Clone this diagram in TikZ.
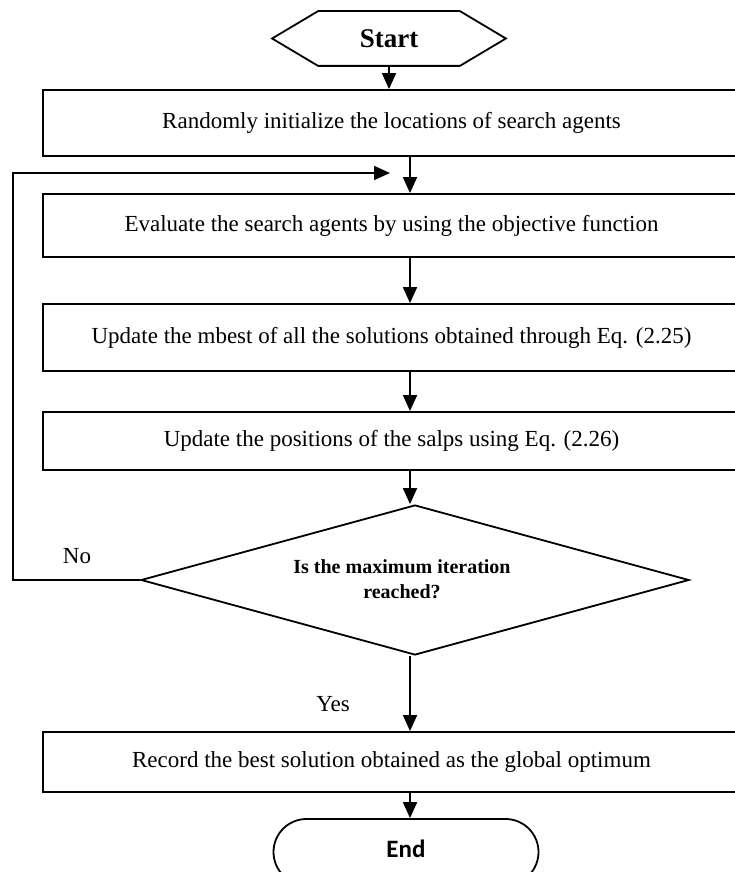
\documentclass[tikz,border=0pt]{standalone}
\usepackage{fontspec}
\setmainfont{Liberation Serif}
\newfontfamily\endfont{Carlito}
\usetikzlibrary{arrows.meta,shapes.geometric,shapes.misc}
\begin{document}
\begin{tikzpicture}[x=1pt,y=-1pt,
  line width=1.8pt,
  procbox/.style={draw, line width=1.8pt, minimum width=697pt, inner sep=0pt,
    font=\fontsize{23}{27}\selectfont},
  arr/.style={-{Triangle[length=16pt,width=14pt]}, line width=1.8pt},
  lbl/.style={font=\fontsize{23}{27}\selectfont, inner sep=0pt}]
\useasboundingbox (0,0) rectangle (735,872);
% start hexagon
\node[minimum width=232pt, minimum height=53pt, inner sep=0pt,
  font=\bfseries\fontsize{27}{31}\selectfont] (start) at (389,38.5) {Start};
\draw ([xshift=46pt]start.north west) -- ([xshift=-46pt]start.north east) -- (start.east)
  -- ([xshift=-46pt]start.south east) -- ([xshift=46pt]start.south west) -- (start.west) -- cycle;
% process boxes
\node[procbox, minimum height=66pt] (b1) at (391.5,123) {Randomly initialize the locations of search agents};
\node[procbox, minimum height=63pt] (b2) at (391.5,225.5) {Evaluate the search agents by using the objective function};
\node[procbox, minimum height=67pt] (b3) at (391.5,337.5) {Update the mbest of all the solutions obtained through Eq. (2.25)};
\node[procbox, minimum height=58pt] (b4) at (391.5,441) {Update the positions of the salps using Eq. (2.26)};
\node[draw, diamond, aspect=3.67, minimum width=548pt, minimum height=150pt, inner sep=0pt]
  (dec) at (415,580) {};
\node[align=center, inner sep=0pt, font=\bfseries\fontsize{20}{25}\selectfont] (dectext) at (402,579)
  {Is the maximum iteration\\reached?};
\node[procbox, minimum height=60pt] (b5) at (391.5,762) {Record the best solution obtained as the global optimum};
\node[draw, rounded rectangle, minimum width=265pt, minimum height=66pt, inner sep=0pt,
  font=\endfont\bfseries\fontsize{25}{30}\selectfont] (end) at (406,852) {\raisebox{6pt}{End}};
% column of the flow
\coordinate (col) at (410,0);
\coordinate (looptip) at (390,173);
\coordinate (loopcorner) at (13,173);
% connectors
\draw[arr] (start.south) -- (start.south |- b1.north);
\draw[arr] (b1.south -| col) -- (b2.north -| col);
\draw[arr] (b2.south -| col) -- (b3.north -| col);
\draw[arr] (b3.south -| col) -- (b4.north -| col);
\draw[arr] (b4.south -| col) -- (dec.north -| col);
\draw[arr] (dec.south -| col) -- (b5.north -| col);
\draw[arr] (b5.south -| col) -- (end.north -| col);
\draw[arr] (dec.west) -| (loopcorner) -- (looptip);
% labels
\node[lbl] (no) at (77,556) {No};
\node[lbl] (yes) at (333,704) {Yes};
\end{tikzpicture}
\end{document}
